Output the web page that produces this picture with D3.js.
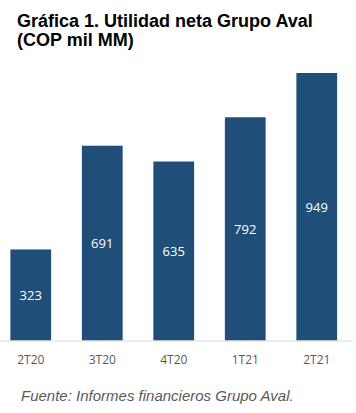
<!DOCTYPE html>
<html>
<head>
<meta charset="utf-8">
<script src="https://cdn.jsdelivr.net/npm/d3@7"></script>
<style>
  html, body { margin: 0; padding: 0; background: #ffffff; }
  svg { display: block; }
</style>
</head>
<body>
<svg id="chart" width="356" height="413"></svg>
<script>
const categories = ["2T20", "3T20", "4T20", "1T21", "2T21"];
const values = [323, 691, 635, 792, 949];
const titleLines = ["Gráfica 1. Utilidad neta Grupo Aval", "(COP mil MM)"];
const sourceText = "Fuente: Informes financieros Grupo Aval.";

const svg = d3.select("#chart");
const baseY = 340.5;

const x = d3.scaleBand()
  .domain(categories)
  .range([-5, 352.5])
  .paddingInner(0.43)
  .paddingOuter(0.215);

const y = d3.scaleLinear()
  .domain([0, 949])
  .range([baseY, 73]);

// Title
svg.append("g").selectAll("text")
  .data(titleLines)
  .join("text")
  .attr("x", 17)
  .attr("y", (d, i) => 27 + i * 18.5)
  .attr("font-family", "Arial, 'Liberation Sans', sans-serif")
  .attr("font-weight", "bold")
  .attr("font-size", "18px")
  .attr("fill", "#000000")
  .text(d => d);

// Bars
svg.append("g").selectAll("rect")
  .data(values)
  .join("rect")
  .attr("x", (d, i) => x(categories[i]))
  .attr("y", d => y(d))
  .attr("width", x.bandwidth())
  .attr("height", d => baseY - y(d))
  .attr("fill", "#1F4E79");

// Value labels
svg.append("g").selectAll("text")
  .data(values)
  .join("text")
  .attr("x", (d, i) => x(categories[i]) + x.bandwidth() / 2)
  .attr("y", d => (y(d) + baseY) / 2)
  .attr("text-anchor", "middle")
  .attr("dominant-baseline", "central")
  .attr("font-family", "'Open Sans', sans-serif")
  .attr("font-size", "13px")
  .attr("fill", "#ffffff")
  .text(d => d);

// X axis
const axis = svg.append("g")
  .attr("transform", `translate(0,${baseY})`)
  .call(d3.axisBottom(x).tickSize(0).tickPadding(15));
axis.select(".domain").attr("stroke", "#D9D9D9").attr("stroke-width", 1);
axis.selectAll("text")
  .attr("font-family", "'Open Sans', sans-serif")
  .attr("font-size", "12px")
  .attr("fill", "#595959");

// Source
svg.append("text")
  .attr("x", 21)
  .attr("y", 401)
  .attr("font-family", "Arial, 'Liberation Sans', sans-serif")
  .attr("font-style", "italic")
  .attr("font-size", "15px")
  .attr("fill", "#595959")
  .text(sourceText);
</script>
</body>
</html>
